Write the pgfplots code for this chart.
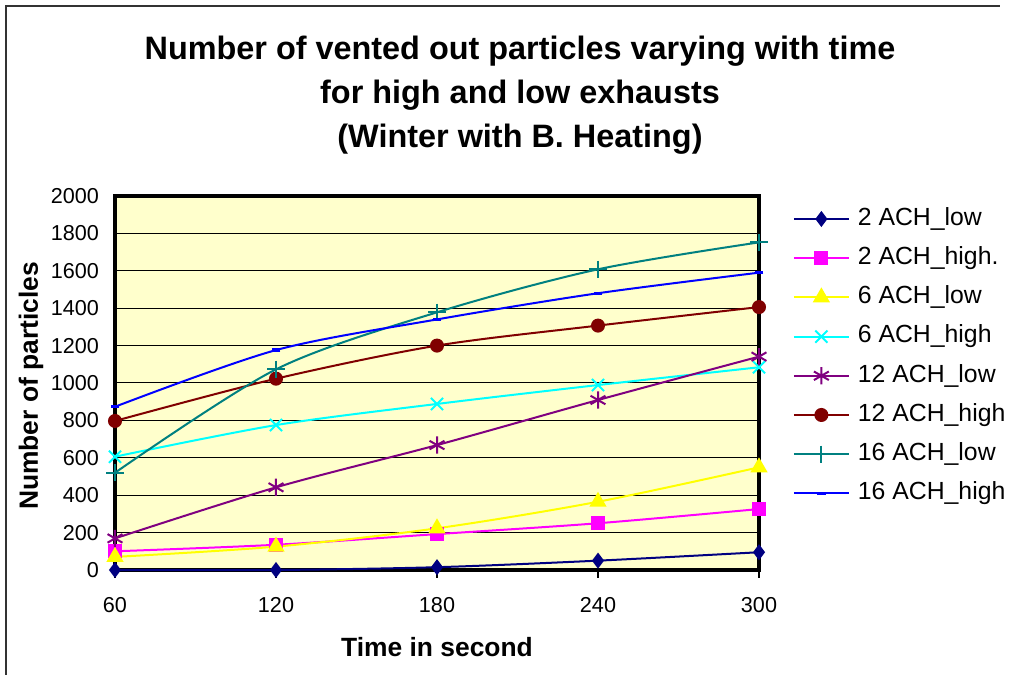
\documentclass[border=0pt]{standalone}
\usepackage{pgfplots}
\pgfplotsset{compat=1.18}
\usepackage{fontspec}
\setmainfont{Liberation Sans}

\definecolor{plotbg}{RGB}{255,255,204}
\definecolor{cNavy}{RGB}{0,0,128}
\definecolor{cMagenta}{RGB}{255,0,255}
\definecolor{cYellow}{RGB}{255,255,0}
\definecolor{cCyan}{RGB}{0,255,255}
\definecolor{cPurple}{RGB}{128,0,128}
\definecolor{cMaroon}{RGB}{128,0,0}
\definecolor{cTeal}{RGB}{0,128,128}
\definecolor{cBlue}{RGB}{0,0,255}

\begin{document}
\begin{tikzpicture}
\useasboundingbox (0pt,0pt) rectangle (509pt,337.5pt);
% chart frame
\draw[line width=1pt, black!80] (3pt,0pt) -- (3pt,334.5pt) -- (500pt,334.5pt);

\begin{axis}[
  at={(57.5pt,52.5pt)}, anchor=south west,
  scale only axis, width=322pt, height=187pt,
  xmin=60, xmax=300, ymin=0, ymax=2000,
  xtick={60,120,180,240,300}, ytick={0,200,...,2000},
  xtick pos=lower, ytick pos=left,
  tick align=outside,
  major tick length=4pt,
  ytick style={draw=none},
  xtick style={black, line width=0.6pt},
  axis background/.style={fill=plotbg},
  axis line style={line width=1.6pt, black},
  ymajorgrids, grid style={black, line width=0.5pt},
  /pgf/number format/assume math mode=true,
  /pgf/number format/1000 sep={},
  tick label style={font=\fontsize{10.8}{12}\selectfont},
  xticklabel style={yshift=-6pt},
  yticklabel style={xshift=-0.5pt},
  clip=false,
  every axis plot/.append style={line width=1pt, smooth},
  legend cell align=left,
  legend style={at={(axis description cs:1.052,0.976)}, anchor=north west,
    draw=none, fill=none, inner sep=0pt, row sep=6pt,
    font=\fontsize{12.4}{14}\selectfont,
    nodes={inner sep=1pt, text height=9pt, text depth=2.6pt}},
  legend image code/.code={%
    \draw[mark repeat=2,mark phase=2] plot coordinates {(0pt,0pt) (13.75pt,0pt) (27.5pt,0pt)};
    \path (30.5pt,0pt);},
]
\addplot[color=cNavy, mark=diamond*, mark size=3.2pt] coordinates {
  (60,0) (120,0) (180,15) (240,50) (300,95)};
\addlegendentry{2 ACH\_low}
\addplot[color=cMagenta, mark=square*, mark size=3pt] coordinates {
  (60,100) (120,135) (180,192) (240,250) (300,326)};
\addlegendentry{2 ACH\_high.}
\addplot[color=cYellow, mark=triangle*, mark size=4pt] coordinates {
  (60,70) (120,125) (180,223) (240,365) (300,549)};
\addlegendentry{6 ACH\_low}
\addplot[color=cCyan, mark=x, mark size=4.3pt] coordinates {
  (60,606) (120,775) (180,888) (240,989) (300,1084)};
\addlegendentry{6 ACH\_high}
\addplot[color=cPurple, mark=asterisk, mark size=4.3pt] coordinates {
  (60,169) (120,442) (180,668) (240,909) (300,1141)};
\addlegendentry{12 ACH\_low}
\addplot[color=cMaroon, mark=*, mark size=3pt] coordinates {
  (60,797) (120,1023) (180,1200) (240,1307) (300,1406)};
\addlegendentry{12 ACH\_high}
\addplot[color=cTeal, mark=+, mark size=4.3pt] coordinates {
  (60,520) (120,1073) (180,1378) (240,1608) (300,1752)};
\addlegendentry{16 ACH\_low}
\addplot[color=cBlue, mark=-, mark size=2.2pt, mark options={line width=1.6pt}] coordinates {
  (60,873) (120,1176) (180,1340) (240,1480) (300,1590)};
\addlegendentry{16 ACH\_high}
\end{axis}

% title and axis labels
\node[align=center, font=\bfseries\fontsize{16.2}{22}\selectfont] at (260pt,290pt)
  {Number of vented out particles varying with time\\for high and low exhausts\\(Winter with B. Heating)};
\node[font=\bfseries\fontsize{13.2}{15}\selectfont] at (218.5pt,14pt) {Time in second};
\node[rotate=90, font=\bfseries\fontsize{13.2}{15}\selectfont] at (15.5pt,144.5pt) {Number of particles};
\end{tikzpicture}
\end{document}
